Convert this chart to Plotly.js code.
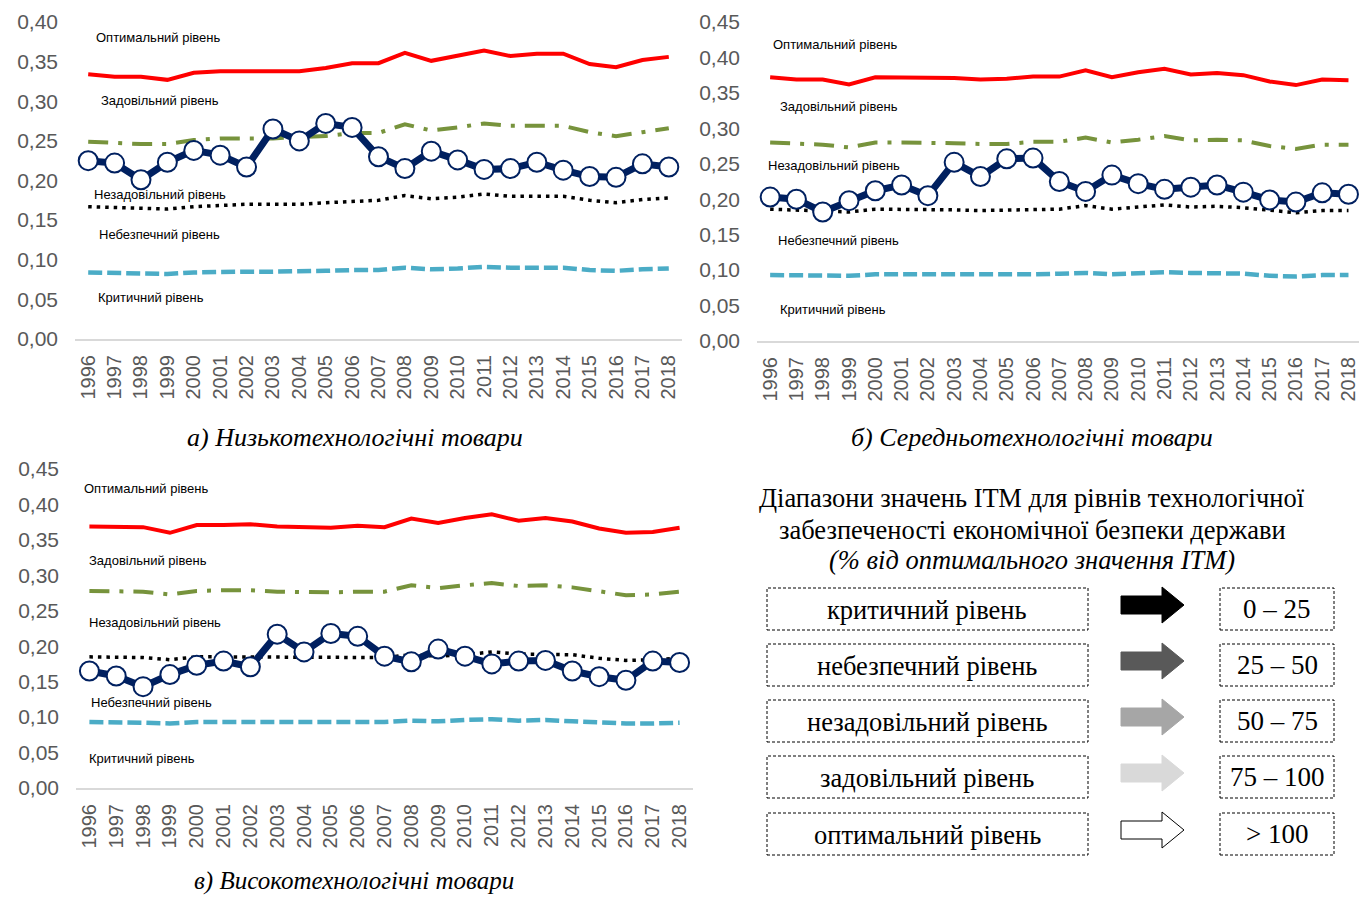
<!DOCTYPE html>
<html>
<head>
<meta charset="utf-8">
<script src="https://cdn.plot.ly/plotly-3.0.1.min.js"></script>
<style>
html,body{margin:0;padding:0;background:#fff;overflow:hidden;}
#chart{width:1359px;height:897px;}
</style>
</head>
<body>
<div id="chart"></div>
<script>
// ---------- DATA ----------
const years = ['1996','1997','1998','1999','2000','2001','2002','2003','2004','2005','2006','2007','2008','2009','2010','2011','2012','2013','2014','2015','2016','2017','2018'];

// а) Низькотехнологічні товари
const lowOpt = [0.334,0.331,0.331,0.327,0.336,0.338,0.338,0.338,0.338,0.342,0.348,0.348,0.361,0.351,0.357,0.364,0.357,0.360,0.360,0.347,0.343,0.352,0.356];
const lowSat = [0.249,0.247,0.246,0.246,0.251,0.253,0.253,0.253,0.255,0.256,0.260,0.260,0.271,0.263,0.267,0.272,0.269,0.269,0.269,0.261,0.256,0.261,0.266];
const lowUns = [0.167,0.166,0.166,0.164,0.167,0.169,0.170,0.170,0.170,0.172,0.174,0.175,0.181,0.177,0.179,0.183,0.180,0.180,0.180,0.175,0.172,0.176,0.178];
const lowDng = [0.084,0.083,0.083,0.082,0.084,0.085,0.085,0.085,0.085,0.086,0.087,0.087,0.090,0.088,0.089,0.091,0.090,0.090,0.090,0.087,0.086,0.088,0.089];
const lowItm = [0.225,0.222,0.201,0.223,0.238,0.232,0.217,0.265,0.250,0.272,0.267,0.230,0.215,0.237,0.226,0.214,0.215,0.223,0.213,0.205,0.204,0.221,0.217];

// б) Середньотехнологічні товари
const midOpt = [0.372,0.369,0.369,0.362,0.372,0.372,0.372,0.371,0.369,0.370,0.373,0.373,0.382,0.372,0.379,0.384,0.376,0.378,0.375,0.366,0.361,0.369,0.368];
const midSat = [0.280,0.278,0.277,0.273,0.280,0.280,0.280,0.279,0.278,0.278,0.281,0.281,0.287,0.280,0.284,0.289,0.283,0.284,0.283,0.275,0.271,0.277,0.277];
const midUns = [0.186,0.185,0.184,0.182,0.186,0.186,0.186,0.185,0.184,0.185,0.186,0.186,0.191,0.186,0.189,0.192,0.189,0.190,0.188,0.184,0.181,0.184,0.184];
const midDng = [0.093,0.093,0.093,0.092,0.094,0.094,0.094,0.094,0.093,0.093,0.094,0.095,0.096,0.094,0.096,0.097,0.096,0.096,0.095,0.092,0.091,0.093,0.093];
const midItm = [0.203,0.200,0.182,0.198,0.212,0.220,0.205,0.252,0.232,0.257,0.258,0.225,0.211,0.234,0.222,0.214,0.217,0.220,0.210,0.199,0.196,0.209,0.207];

// в) Високотехнологічні товари
const highOpt = [0.369,0.368,0.368,0.360,0.371,0.371,0.372,0.369,0.368,0.367,0.370,0.368,0.380,0.374,0.381,0.386,0.377,0.381,0.376,0.366,0.360,0.361,0.367];
const highSat = [0.278,0.277,0.277,0.273,0.278,0.279,0.279,0.277,0.276,0.276,0.277,0.277,0.286,0.282,0.286,0.289,0.285,0.286,0.283,0.277,0.272,0.273,0.277];
const highUns = [0.185,0.185,0.184,0.181,0.185,0.185,0.185,0.184,0.184,0.184,0.184,0.184,0.188,0.186,0.188,0.192,0.189,0.188,0.188,0.183,0.180,0.181,0.183];
const highDng = [0.093,0.093,0.092,0.091,0.093,0.093,0.093,0.093,0.092,0.092,0.093,0.093,0.095,0.094,0.096,0.097,0.095,0.096,0.094,0.092,0.091,0.091,0.092];
const highItm = [0.165,0.158,0.143,0.160,0.173,0.179,0.171,0.217,0.192,0.218,0.214,0.186,0.178,0.196,0.186,0.175,0.179,0.180,0.165,0.157,0.152,0.179,0.177];

const levelNames = ['Оптимальний рівень','Задовільний рівень','Незадовільний рівень','Небезпечний рівень','Критичний рівень'];
const panelTitles = ['а) Низькотехнологічні товари','б) Середньотехнологічні товари','в) Високотехнологічні товари'];
const legendTitle = ['Діапазони значень ІТМ для рівнів технологічної','забезпеченості економічної безпеки держави','(% від оптимального значення ІТМ)'];
const legendLevels = ['критичний рівень','небезпечний рівень','незадовільний рівень','задовільний рівень','оптимальний рівень'];
const legendRanges = ['0 – 25','25 – 50','50 – 75','75 – 100','> 100'];

// ---------- LAYOUT HELPERS ----------
const W = 1359, H = 897;
const px = x => x / W;
const py = y => 1 - y / H;

const C_RED = '#ff0000', C_GRN = '#77933c', C_BLK = '#000000', C_CYN = '#4bacc6', C_NAV = '#002060';
const GRAY = '#595959';

function panelTraces(xa, ya, opt, sat, uns, dng, itm) {
  return [
    {x: years, y: opt, xaxis: xa, yaxis: ya, type: 'scatter', mode: 'lines', name: levelNames[0],
     line: {color: C_RED, width: 4}},
    {x: years, y: sat, xaxis: xa, yaxis: ya, type: 'scatter', mode: 'lines', name: levelNames[1],
     line: {color: C_GRN, width: 4, dash: '20px,10px,4px,10px'}},
    {x: years, y: uns, xaxis: xa, yaxis: ya, type: 'scatter', mode: 'lines', name: levelNames[2],
     line: {color: C_BLK, width: 3.5, dash: '3.5px,5px'}},
    {x: years, y: dng, xaxis: xa, yaxis: ya, type: 'scatter', mode: 'lines', name: levelNames[3],
     line: {color: C_CYN, width: 4.5, dash: '14px,5px'}},
    {x: years, y: itm, xaxis: xa, yaxis: ya, type: 'scatter', mode: 'lines+markers', name: 'ІТМ',
     line: {color: C_NAV, width: 7},
     marker: {symbol: 'circle', size: 19, color: '#ffffff', line: {color: C_NAV, width: 2}},
     cliponaxis: false}
  ];
}

const data = [].concat(
  panelTraces('x', 'y', lowOpt, lowSat, lowUns, lowDng, lowItm),
  panelTraces('x2', 'y2', midOpt, midSat, midUns, midDng, midItm),
  panelTraces('x3', 'y3', highOpt, highSat, highUns, highDng, highItm)
);

function xAxis(l, r, anchor, rmax) {
  return {
    type: 'category', domain: [px(l), px(r)], anchor: anchor, range: [-0.5, rmax],
    showline: true, linecolor: '#d9d9d9', linewidth: 2, ticks: '', showgrid: false, zeroline: false,
    tickangle: -90, tickfont: {family: 'Liberation Sans, Arial, sans-serif', size: 20, color: GRAY},
    ticklabelstandoff: 6, fixedrange: true
  };
}
function yAxis(top, bottom, anchor, ymax) {
  return {
    domain: [py(bottom), py(top)], anchor: anchor, range: [0, ymax], dtick: 0.05, tick0: 0,
    tickformat: '.2f', showline: false, ticks: '', showgrid: false, zeroline: false,
    tickfont: {family: 'Liberation Sans, Arial, sans-serif', size: 21, color: GRAY},
    ticklabelstandoff: 16, fixedrange: true
  };
}

const annotations = [];
function lab(text, x, y) {
  annotations.push({text: text, xref: 'paper', yref: 'paper', x: px(x), y: py(y),
    xanchor: 'left', yanchor: 'middle', showarrow: false,
    font: {family: 'Liberation Sans, Arial, sans-serif', size: 13, color: '#000'}});
}
// panel а
lab(levelNames[0], 94, 37); lab(levelNames[1], 99, 100); lab(levelNames[2], 92, 194);
lab(levelNames[3], 97, 234); lab(levelNames[4], 96, 297);
// panel б
lab(levelNames[0], 771, 45); lab(levelNames[1], 778, 106); lab(levelNames[2], 766, 165);
lab(levelNames[3], 776, 240); lab(levelNames[4], 778, 309);
// panel в
lab(levelNames[0], 82, 488); lab(levelNames[1], 87, 560); lab(levelNames[2], 87, 622);
lab(levelNames[3], 89, 702); lab(levelNames[4], 87, 758);

function serif(text, x, y, size, italic, xanchor) {
  annotations.push({text: italic ? '<i>' + text + '</i>' : text, xref: 'paper', yref: 'paper',
    x: px(x), y: py(y), xanchor: xanchor || 'center', yanchor: 'middle', showarrow: false,
    font: {family: 'Liberation Serif, Times New Roman, serif', size: size, color: '#000'}});
}
serif(panelTitles[0], 355, 437, 26, true);
serif(panelTitles[1], 1032, 437, 26, true);
serif(panelTitles[2], 354, 881, 25, true);

serif(legendTitle[0], 1032, 498, 26.5, false);
serif(legendTitle[1], 1032, 530, 26.5, false);
serif(legendTitle[2], 1032, 560, 26.5, true);

const shapes = [];
const rowTops = [588, 644, 700, 756, 813];
const arrowFill = ['#000000', '#595959', '#a6a6a6', '#d9d9d9', '#ffffff'];
rowTops.forEach((t, i) => {
  const b = t + 42, c = (t + b) / 2;
  shapes.push({type: 'rect', xref: 'paper', yref: 'paper', x0: px(767), x1: px(1088), y0: py(b), y1: py(t),
    line: {color: '#000', width: 1, dash: '3px,2px'}, fillcolor: 'rgba(0,0,0,0)'});
  shapes.push({type: 'rect', xref: 'paper', yref: 'paper', x0: px(1220), x1: px(1334), y0: py(b), y1: py(t),
    line: {color: '#000', width: 1, dash: '3px,2px'}, fillcolor: 'rgba(0,0,0,0)'});
  serif(legendLevels[i], 927, c + 1, 26.5, false);
  serif(legendRanges[i], 1277, c, 27, false);
  const ac = c - 4;
  const pts = [[1121, ac - 9], [1162, ac - 9], [1162, ac - 18], [1184, ac], [1162, ac + 18], [1162, ac + 9], [1121, ac + 9]];
  const path = 'M ' + pts.map(p => px(p[0]) + ',' + py(p[1])).join(' L ') + ' Z';
  shapes.push({type: 'path', xref: 'paper', yref: 'paper', path: path, fillcolor: arrowFill[i],
    line: {color: i === 4 ? '#000' : arrowFill[i], width: 1}});
});

const layout = {
  width: W, height: H, margin: {l: 0, r: 0, t: 0, b: 0, pad: 0},
  paper_bgcolor: '#ffffff', plot_bgcolor: 'rgba(0,0,0,0)', showlegend: false,
  separators: ', ',
  xaxis: xAxis(75, 682, 'y', 22.5),
  yaxis: yAxis(22, 339, 'x', 0.40),
  xaxis2: xAxis(757, 1359, 'y2', 22.4),
  yaxis2: yAxis(22, 341, 'x2', 0.45),
  xaxis3: xAxis(76, 693, 'y3', 22.5),
  yaxis3: yAxis(469, 788, 'x3', 0.45),
  annotations: annotations, shapes: shapes
};

Plotly.newPlot('chart', data, layout, {staticPlot: true, displayModeBar: false});
</script>
</body>
</html>
